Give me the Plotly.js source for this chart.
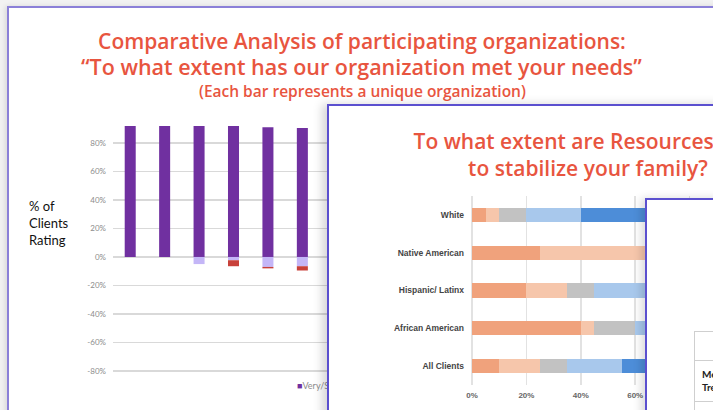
<!DOCTYPE html>
<html>
<head>
<meta charset="utf-8">
<script src="https://cdn.plot.ly/plotly-3.0.1.min.js"></script>
<style>
  html, body { margin:0; padding:0; width:713px; height:410px; overflow:hidden; background:#f2f2f2; }
  .panel { position:absolute; box-sizing:border-box; background:#ffffff; overflow:hidden; }
  #panel1 { left:7px; top:6px; width:760px; height:460px; border:2px solid #8b80d8; box-shadow:-2px 0 5px rgba(0,0,0,0.10); }
  #panel2 { left:327px; top:104px; width:480px; height:340px; border:2px solid #5b50cf; box-shadow:-5px 0 9px rgba(0,0,0,0.16); z-index:2; }
  #panel3 { left:645px; top:198px; width:420px; height:300px; border:2px solid #5b50cf; box-shadow:-4px 0 8px rgba(0,0,0,0.14); z-index:3; }
  #p1 { position:absolute; left:0; top:0; width:713px; height:410px; z-index:1; }
  #p2 { position:absolute; left:0; top:0; }
  #p3 { position:absolute; left:0; top:0; }
</style>
</head>
<body>
<div id="panel1" class="panel"></div>
<div id="p1"></div>
<div id="panel2" class="panel"><div id="p2"></div></div>
<div id="panel3" class="panel"><div id="p3"></div></div>
<script>
// ---------- Chart 1 : comparative analysis (each bar = one organization) ----------
var orgs = ["Org 1", "Org 2", "Org 3", "Org 4", "Org 5", "Org 6"];
var metNeeds = [100, 100, 95, 93.5, 91, 90.5];      // Very/Somewhat met (positive)
var neutral = [0, 0, -5, -2.3, -7, -6.5];            // Neutral (negative)
var notMet = [0, 0, 0, -4.2, -1, -3];                // Not met (negative)
var seriesNames1 = ["Very/Somewhat Met", "Neutral", "Not Met"];
var yTicks1 = [-80, -60, -40, -20, 0, 20, 40, 60, 80];
var yTickText1 = ["-80%", "-60%", "-40%", "-20%", "0%", "20%", "40%", "60%", "80%"];

// ---------- Chart 2 : stabilize your family, by race/ethnicity ----------
var groups = ["White", "Native American", "Hispanic/ Latinx", "African American", "All Clients"];
var notAtAll = [5, 25, 20, 40, 10];
var aLittle = [5, 50, 15, 5, 15];
var somewhat = [10, 0, 10, 15, 10];
var mostly = [20, 0, 35, 20, 20];
var completely = [60, 25, 20, 20, 45];
var seriesNames2 = ["Not at all", "A little", "Somewhat", "Mostly", "Completely"];
var xTicks2 = [0, 20, 40, 60, 80, 100];
var xTickText2 = ["0%", "20%", "40%", "60%", "80%", "100%"];

// ---------- Table (right slide) ----------
var tableHeader = ["", "Clients", "Percent"];
var tableRowLabels = ["Mental Health<br>Treatment", "Access to Services"];
var tableCol2 = ["", ""];
var tableCol3 = ["", ""];

var titleFont = "'Open Sans', Lato, sans-serif";
var coral = "#e8553f";

// ----- Chart 1 -----
var plotL = 113, plotT = 126, plotB = 380, unit = 34.4;
var nCat = 7;
var plotR = plotL + nCat * unit;
var c1 = [metNeeds, neutral, notMet];
var col1 = ["#7030a0", "#c4b6f7", "#c8413a"];
var traces1 = c1.map(function (vals, i) {
  return {
    type: "bar", x: orgs, y: vals, name: seriesNames1[i],
    marker: { color: col1[i] }, showlegend: false,
    hoverinfo: "skip"
  };
});
var pw = plotR - plotL, ph = plotB - plotT;
function px(x) { return (x - plotL) / pw; }
function py(y) { return (plotB - y) / ph; }
var layout1 = {
  width: 713, height: 410,
  margin: { l: plotL, t: plotT, b: 410 - plotB, r: 713 - plotR, pad: 0 },
  paper_bgcolor: "rgba(0,0,0,0)", plot_bgcolor: "rgba(0,0,0,0)",
  barmode: "relative", bargap: 0.68,
  title: {
    text: "Comparative Analysis of participating organizations:",
    font: { family: titleFont, size: 21, color: coral, weight: 600 },
    xref: "container", yref: "container", x: 362 / 713, y: 1 - 41.3 / 410,
    xanchor: "center", yanchor: "middle"
  },
  xaxis: { type: "category", range: [-0.5, nCat - 0.5], showticklabels: false, showgrid: false, zeroline: false, fixedrange: true },
  yaxis: {
    range: [91.9 - ph / 28.5 * 20, 91.9], tickvals: yTicks1, ticktext: yTickText1,
    tickfont: { family: "Lato, sans-serif", size: 8, color: "#8c8c8c" },
    gridcolor: "#d9d9d9", gridwidth: 1.5, zeroline: true, zerolinecolor: "#d9d9d9", zerolinewidth: 1.5,
    showline: false, ticklabelstandoff: 6
  },
  annotations: [
    {
      text: "“To what extent has our organization met your needs”", showarrow: false,
      xref: "paper", yref: "paper", x: px(361), y: py(66.3),
      xanchor: "center", yanchor: "middle",
      font: { family: titleFont, size: 21.5, color: coral, weight: 600 }
    },
    {
      text: "(Each bar represents a unique organization)", showarrow: false,
      xref: "paper", yref: "paper", x: px(362), y: py(91),
      xanchor: "center", yanchor: "middle",
      font: { family: titleFont, size: 15.5, color: coral, weight: 600 }
    },
    {
      text: "% of<br>Clients<br>Rating", showarrow: false, align: "left",
      xref: "paper", yref: "paper", x: px(27), y: py(223),
      xanchor: "left", yanchor: "middle",
      font: { family: "Lato, sans-serif", size: 13, color: "#111111" }
    },
    {
      text: "<span style='color:" + col1[0] + "'>■</span>" + seriesNames1[0] +
            "   <span style='color:" + col1[1] + "'>■</span>" + seriesNames1[1] +
            "   <span style='color:" + col1[2] + "'>■</span>" + seriesNames1[2],
      showarrow: false,
      xref: "paper", yref: "paper", x: px(295), y: py(385),
      xanchor: "left", yanchor: "middle",
      font: { family: "Lato, sans-serif", size: 9, color: "#8c8c8c" }
    }
  ]
};
Plotly.newPlot("p1", traces1, layout1, { staticPlot: true, displayModeBar: false });

// ----- Chart 2 -----
var ox = 329, oy = 106; // inner origin of panel 2 in page coords
var W2 = 476, H2 = 336;
var p2L = 472 - ox, p2R = p2L + 271.7, p2T = 195.5 - oy, p2B = 385 - oy;
var c2 = [notAtAll, aLittle, somewhat, mostly, completely];
var col2 = ["#f0a27c", "#f6c6ab", "#c2c2c2", "#a8c8ec", "#4d8dd8"];
var traces2 = c2.map(function (vals, i) {
  return {
    type: "bar", orientation: "h", y: groups, x: vals, name: seriesNames2[i],
    marker: { color: col2[i] }, hoverinfo: "skip"
  };
});
var layout2 = {
  width: W2, height: H2,
  margin: { l: p2L, r: W2 - p2R, t: p2T, b: H2 - p2B, pad: 0 },
  paper_bgcolor: "#ffffff", plot_bgcolor: "#ffffff",
  barmode: "stack", bargap: 0.62, showlegend: false,
  title: {
    text: "To what extent are Resources able<br>to stabilize your family?",
    font: { family: titleFont, size: 21, color: coral, weight: 600 },
    xref: "container", yref: "container", x: (588 - ox) / W2, y: 1 - (149 - oy) / H2,
    xanchor: "center", yanchor: "middle"
  },
  xaxis: {
    range: [0, 100], tickvals: xTicks2, ticktext: xTickText2,
    tickfont: { family: "Liberation Sans, Arial, sans-serif", size: 8, color: "#666666", weight: 700 },
    gridcolor: "#e2e2e2", gridwidth: 1.5, zeroline: true, zerolinecolor: "#e2e2e2", zerolinewidth: 1.5,
    showline: false, ticklabelstandoff: 4
  },
  yaxis: {
    type: "category", autorange: "reversed", showgrid: false, zeroline: false,
    tickfont: { family: "Liberation Sans, Arial, sans-serif", size: 8.5, color: "#444444", weight: 700 },
    ticklabelstandoff: 7
  }
};
Plotly.newPlot("p2", traces2, layout2, { staticPlot: true, displayModeBar: false });

// ----- Table -----
var ox3 = 647, oy3 = 200;
var W3 = 416, H3 = 296;
var tblL = 694 - ox3, tblT = 331 - oy3;
var traces3 = [{
  type: "table",
  domain: { x: [tblL / W3, 1], y: [0, 1 - tblT / H3] },
  columnwidth: [150, 100, 100],
  header: {
    values: tableHeader, height: 29, align: "left",
    line: { color: "#cfcfcf", width: 1 }, fill: { color: "#ffffff" },
    font: { family: "Lato, sans-serif", size: 10, color: "#222222", weight: 700 }
  },
  cells: {
    values: [tableRowLabels, tableCol2, tableCol3], height: 36, align: "left",
    line: { color: "#cfcfcf", width: 1 }, fill: { color: "#ffffff" },
    font: { family: "Lato, sans-serif", size: 10, color: "#222222", weight: 700 }
  }
}];
var layout3 = {
  width: W3, height: H3, margin: { l: 0, r: 0, t: 0, b: 0 },
  paper_bgcolor: "#ffffff"
};
Plotly.newPlot("p3", traces3, layout3, { staticPlot: true, displayModeBar: false });
</script>
</body>
</html>
